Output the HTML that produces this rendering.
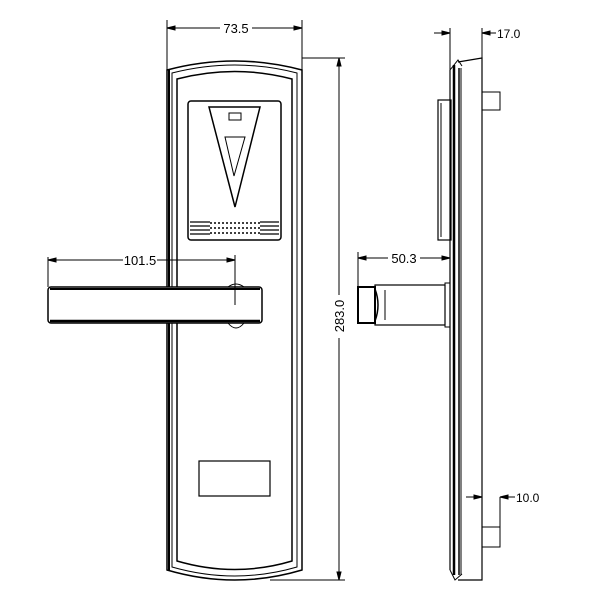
<!DOCTYPE html>
<html><head><style>body{margin:0;background:#fff}svg{display:block}</style></head><body>
<svg width="600" height="600" viewBox="0 0 600 600" xmlns="http://www.w3.org/2000/svg" fill="none" stroke="#000" font-family="Liberation Sans, sans-serif">
<!-- front plate -->
<path d="M167,70 Q235,52 302,70 L302,570 Q235,590 167,570 Z" stroke-width="1.5"/>
<path d="M172,73 Q235,57 297,73 L297,567 Q235,585 172,567 Z" stroke-width="1"/>
<path d="M177,79 Q235,64 292,79 L292,561 Q235,578 177,561 Z" stroke-width="1.5"/>
<line x1="169" y1="70" x2="169" y2="570" stroke-width="2"/>
<!-- reader -->
<rect x="188" y="101" width="93" height="139" rx="3" stroke-width="1.5"/>
<path d="M209,107 L260,107 L235,207 Z" stroke-width="1.5"/>
<rect x="229" y="113" width="12" height="7"/>
<path d="M225,137 L245,137 L234,176 Z"/>
<g stroke-width="1.2">
<line x1="190" y1="222" x2="279" y2="222"/><line x1="190" y1="226" x2="279" y2="226"/>
<line x1="190" y1="230" x2="279" y2="230"/><line x1="190" y1="234" x2="279" y2="234"/>
</g>
<rect x="210" y="220" width="50" height="16" fill="#fff" stroke="none"/>
<g stroke-width="1.5" stroke-dasharray="2 2"><line x1="210" y1="223" x2="260" y2="223"/><line x1="210" y1="228" x2="260" y2="228"/><line x1="210" y1="233" x2="260" y2="233"/></g>
<!-- lower rect -->
<rect x="199" y="461" width="71" height="35" stroke-width="1.2"/>
<!-- handle -->
<rect x="48" y="287" width="214" height="36" rx="3" fill="#fff" stroke-width="1.5"/>
<line x1="50" y1="289" x2="260" y2="289" stroke-width="2"/>
<line x1="50" y1="321" x2="260" y2="321" stroke-width="2.5"/>
<path d="M228,323 Q236,333 244,323"/>
<path d="M228,287 Q236,281 244,287"/>
<line x1="235" y1="287" x2="235" y2="305"/>
<!-- 101.5 dim -->
<line x1="48" y1="257" x2="48" y2="287"/><line x1="235" y1="255" x2="235" y2="287"/>
<line x1="48" y1="260" x2="123" y2="260"/><line x1="157" y1="260" x2="235" y2="260"/>
<path d="M48,260 l8,-2 v4 z M235,260 l-8,-2 v4 z" fill="#000"/>
<text x="140" y="265" font-size="13" fill="#000" stroke="none" text-anchor="middle">101.5</text>
<!-- 73.5 dim -->
<line x1="167" y1="20" x2="167" y2="70"/><line x1="302" y1="20" x2="302" y2="70"/>
<line x1="167" y1="28" x2="220" y2="28"/><line x1="252" y1="28" x2="302" y2="28"/>
<path d="M167,28 l8,-2 v4 z M302,28 l-8,-2 v4 z" fill="#000"/>
<text x="236" y="33" font-size="13" fill="#000" stroke="none" text-anchor="middle">73.5</text>
<!-- 283 dim -->
<line x1="302" y1="58" x2="345" y2="58"/><line x1="270" y1="580" x2="345" y2="580"/>
<line x1="339" y1="58" x2="339" y2="295"/><line x1="339" y1="338" x2="339" y2="580"/>
<path d="M339,58 l-2,8 h4 z M339,580 l-2,-8 h4 z" fill="#000"/>
<text x="344" y="316" font-size="13" fill="#000" stroke="none" text-anchor="middle" transform="rotate(-90 344 316)">283.0</text>
<!-- side view -->
<path d="M458,62 L482,58 L482,580 L458,580" stroke-width="1.2"/>
<line x1="450" y1="70" x2="450" y2="570" stroke-width="1.2"/>
<line x1="454" y1="65" x2="454" y2="575" stroke-width="2.5"/>
<line x1="459" y1="68" x2="459" y2="575" stroke-width="1.5"/>
<line x1="461" y1="68" x2="461" y2="575"/>
<path d="M450,70 L458,60 L462,66"/><path d="M450,570 L455,580 L462,574"/>
<rect x="482" y="92" width="18" height="18"/>
<rect x="438" y="100" width="13" height="140" stroke-width="1.2"/>
<line x1="441" y1="103" x2="441" y2="237"/>
<rect x="482" y="527" width="18" height="20"/>
<!-- side handle -->
<rect x="375" y="285" width="70" height="40" stroke-width="1.2"/>
<rect x="445" y="283" width="5" height="44"/>
<rect x="358" y="287" width="17" height="36" stroke-width="2"/>
<path d="M375,289 Q381,305 375,321" stroke-width="1.5"/>
<line x1="385" y1="290" x2="385" y2="320"/>
<!-- 50.3 -->
<line x1="358" y1="252" x2="358" y2="287"/>
<line x1="358" y1="258" x2="388" y2="258"/><line x1="420" y1="258" x2="450" y2="258"/>
<path d="M358,258 l8,-2 v4 z M450,258 l-8,-2 v4 z" fill="#000"/>
<text x="404" y="263" font-size="13" fill="#000" stroke="none" text-anchor="middle">50.3</text>
<!-- 17.0 -->
<line x1="450" y1="28" x2="450" y2="70"/><line x1="482" y1="28" x2="482" y2="58"/>
<line x1="434" y1="33" x2="450" y2="33"/><line x1="482" y1="33" x2="496" y2="33"/>
<path d="M450,33 l-8,-2 v4 z M482,33 l8,-2 v4 z" fill="#000"/>
<text x="497" y="38" font-size="12" fill="#000" stroke="none">17.0</text>
<!-- 10.0 -->
<line x1="466" y1="497" x2="482" y2="497"/><line x1="500" y1="497" x2="515" y2="497"/>
<line x1="500" y1="497" x2="500" y2="547"/>
<path d="M482,497 l-8,-2 v4 z M500,497 l8,-2 v4 z" fill="#000"/>
<text x="516" y="502" font-size="12" fill="#000" stroke="none">10.0</text>
</svg>
</body></html>
